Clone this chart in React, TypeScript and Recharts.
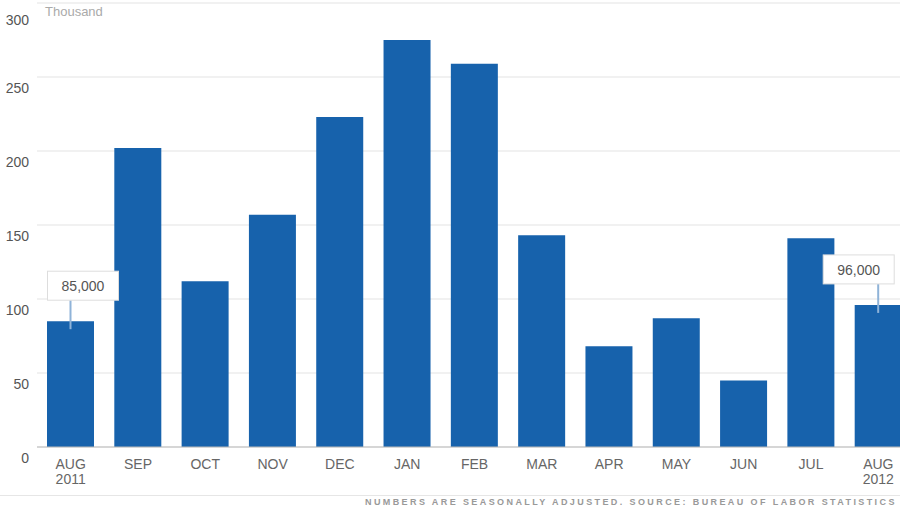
import React from 'react';
import { BarChart, Bar, XAxis, YAxis, CartesianGrid, LabelList } from 'recharts';

const months = ['AUG', 'SEP', 'OCT', 'NOV', 'DEC', 'JAN', 'FEB', 'MAR', 'APR', 'MAY', 'JUN', 'JUL', 'AUG'];
const years = ['2011', '', '', '', '', '', '', '', '', '', '', '', '2012'];
const jobs = [85, 202, 112, 157, 223, 275, 259, 143, 68, 87, 45, 141, 96];
const callouts = ['85,000', '', '', '', '', '', '', '', '', '', '', '', '96,000'];
const yTicks = [0, 50, 100, 150, 200, 250, 300];

const data = months.map((m, i) => ({
  key: `${m}-${i}`,
  month: m,
  year: years[i],
  value: jobs[i],
  callout: callouts[i],
}));

const BLUE = '#1762ac';
const FONT = '"Liberation Sans", Arial, sans-serif';

const YTick = (props: any) => {
  const { x, y, payload } = props;
  return (
    <text x={x} y={y + 16} textAnchor="end" fontSize={14} fill="#555" fontFamily={FONT}>
      {payload.value}
    </text>
  );
};

const XTick = (props: any) => {
  const { x, y, payload, index } = props;
  const row = data[index];
  return (
    <g>
      <text x={x} y={y + 14} textAnchor="middle" fontSize={14} fill="#666" fontFamily={FONT}>
        {row ? row.month : payload.value}
      </text>
      {row && row.year && (
        <text x={x} y={y + 29} textAnchor="middle" fontSize={14} fill="#666" fontFamily={FONT}>
          {row.year}
        </text>
      )}
    </g>
  );
};

// bubble above the first and last bar
const Callout = (props: any) => {
  const { x, y, width, value, index } = props;
  if (!value) return null;
  const cx = x + width / 2;
  const w = 71;
  const h = 29;
  const bx = index === 0 ? cx - 23 : cx - 55;
  const by = y - 50;
  return (
    <g>
      <line x1={cx} y1={by + h} x2={cx} y2={y + 8} stroke="#8fb3d8" strokeWidth={2} />
      <rect x={bx} y={by} width={w} height={h} fill="#fff" stroke="#ddd" strokeWidth={1} />
      <text x={bx + w / 2} y={by + 20} textAnchor="middle" fontSize={14} fill="#555" fontFamily={FONT}>
        {value}
      </text>
    </g>
  );
};

export default function App() {
  return (
    <div style={{ position: 'fixed', left: 0, top: 0, width: 900, height: 506, overflow: 'hidden', background: '#fff' }}>
      <BarChart
        width={912}
        height={506}
        data={data}
        margin={{ top: 3, right: 0, bottom: 0, left: 0 }}
        barSize={47}
      >
        <CartesianGrid vertical={false} stroke="#e3e3e3" />
        <XAxis
          dataKey="key"
          height={59}
          axisLine={{ stroke: '#bbb' }}
          tickLine={false}
          interval={0}
          tick={<XTick />}
        />
        <YAxis
          width={37}
          domain={[0, 300]}
          ticks={yTicks}
          axisLine={false}
          tickLine={false}
          tick={<YTick />}
        />
        <Bar dataKey="value" fill={BLUE} isAnimationActive={false}>
          <LabelList dataKey="callout" content={<Callout />} />
        </Bar>
      </BarChart>
      <div
        style={{
          position: 'absolute',
          left: 45,
          top: 4,
          fontFamily: FONT,
          fontSize: 13,
          color: '#aaa',
        }}
      >
        Thousand
      </div>
      <div style={{ position: 'absolute', left: 0, top: 495, width: 900, height: 1, background: '#e6e6e6' }} />
      <div
        style={{
          position: 'absolute',
          left: 365,
          top: 497,
          fontFamily: FONT,
          fontSize: 9,
          fontWeight: 'bold',
          letterSpacing: 2.4,
          color: '#999',
          whiteSpace: 'nowrap',
        }}
      >
        NUMBERS ARE SEASONALLY ADJUSTED. SOURCE: BUREAU OF LABOR STATISTICS
      </div>
    </div>
  );
}
